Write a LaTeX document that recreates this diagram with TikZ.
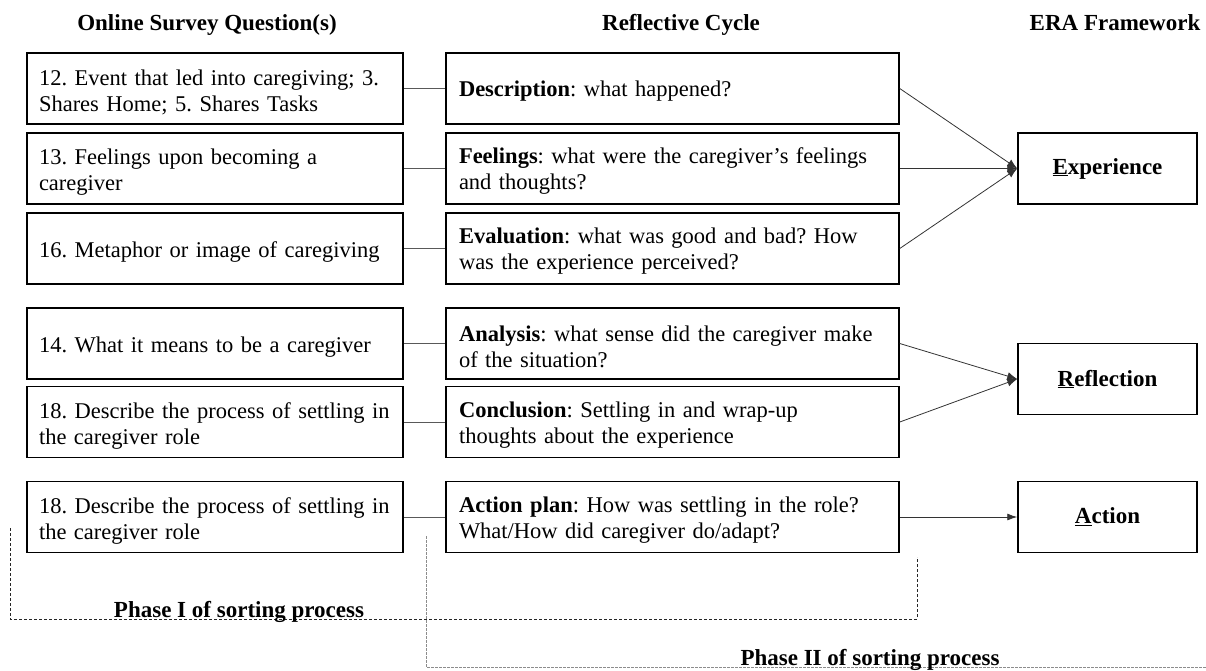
\documentclass[tikz,border=0pt]{standalone}
\usepackage{fontspec}
\setmainfont{Liberation Serif}
\usetikzlibrary{arrows.meta}

\begin{document}
\frenchspacing
\begin{tikzpicture}[x=1pt,y=-1pt,
  every node/.style={font=\fontsize{22.5}{26}\selectfont},
  boxline/.style={draw, line width=1.5pt, rectangle, inner sep=0pt, minimum height=71pt},
  qtext/.style={align=left, text width=352pt, inner sep=0pt, yshift=-3.5pt},
  ctext/.style={align=left, text width=427pt, inner sep=0pt, yshift=-3pt},
  qbox/.style={boxline, minimum width=376pt, label={[qtext]center:{#1}}},
  cbox/.style={boxline, minimum width=453pt, label={[ctext]center:{#1}}},
  ebox/.style={boxline, minimum width=179pt, font=\fontsize{23}{26}\selectfont\bfseries},
  head/.style={font=\fontsize{23}{26}\selectfont\bfseries, anchor=base},
  link/.style={draw=black!65, line width=1pt},
  feed/.style={draw=black!80, line width=0.8pt, -{Latex[length=10pt,width=8pt]}},
  phaseone/.style={draw=black!85, line width=0.9pt, dash pattern=on 3pt off 2pt},
  phasetwo/.style={draw=black!45, line width=0.9pt, dash pattern=on 2.5pt off 1.5pt},
]
\useasboundingbox (0,0) rectangle (1206,670);

% column headings
\node[head] (h1) at (207,30) {Online Survey Question(s)};
\node[head] (h2) at (681,30) {Reflective Cycle};
\node[head] (h3) at (1115,30) {ERA Framework};

% survey questions
\node[qbox={12. Event that led into caregiving; 3.\\Shares Home; 5. Shares Tasks}] (q1) at (215,88.5) {};
\node[qbox={13. Feelings upon becoming a\\caregiver}] (q2) at (215,168.5) {};
\node[qbox={16. Metaphor or image of caregiving}] (q3) at (215,248.5) {};
\node[qbox={14. What it means to be a caregiver}] (q4) at (215,343.5) {};
\node[qbox={18. Describe the process of settling in\\the caregiver role}] (q5) at (215,422) {};
\node[qbox={18. Describe the process of settling in\\the caregiver role}] (q6) at (215,517) {};

% reflective cycle stages
\node[cbox={\textbf{Description}: what happened?}] (c1) at (672.5,88.5) {};
\node[cbox={\textbf{Feelings}: what were the caregiver’s feelings\\and thoughts?}] (c2) at (672.5,168.5) {};
\node[cbox={\textbf{Evaluation}: what was good and bad? How\\was the experience perceived?}] (c3) at (672.5,248.5) {};
\node[cbox={\textbf{Analysis}: what sense did the caregiver make\\of the situation?}] (c4) at (672.5,343.5) {};
\node[cbox={\textbf{Conclusion}: Settling in and wrap-up\\thoughts about the experience}] (c5) at (672.5,422) {};
\node[cbox={\textbf{Action plan}: How was settling in the role?\\What/How did caregiver do/adapt?}] (c6) at (672.5,517) {};

% ERA framework
\node[ebox] (e1) at (1107.5,168.5) {\underline{E}xperience};
\node[ebox] (e2) at (1107.5,379) {\underline{R}eflection};
\node[ebox] (e3) at (1107.5,517) {\underline{A}ction};

% question -> stage
\foreach \i in {1,...,6} {\draw[link] (q\i.east) -- (c\i.west);}

% stage -> framework
\draw[feed] (c1.east) -- (e1.west);
\draw[feed] (c2.east) -- (e1.west);
\draw[feed] (c3.east) -- (e1.west);
\draw[feed] (c4.east) -- (e2.west);
\draw[feed] (c5.east) -- (e2.west);
\draw[feed, -{Latex[length=10pt,width=7pt]}] (c6.east) -- (e3.west);

% sorting phases
\coordinate (pa) at (10,528);
\coordinate (pb) at (10,619);
\coordinate (pc) at (917,619);
\coordinate (pd) at (917,557);
\draw[phaseone] (pa) -- (pb) -- (pc) -- (pd);
\node[head] (ph1) at (239,617) {Phase I of sorting process};

\coordinate (qa) at (426,536);
\coordinate (qb) at (426,667);
\coordinate (qc) at (1206,667);
\draw[phasetwo] (qa) -- (qb) -- (qc);
\node[head] (ph2) at (870,665) {Phase II of sorting process};
\end{tikzpicture}
\end{document}
